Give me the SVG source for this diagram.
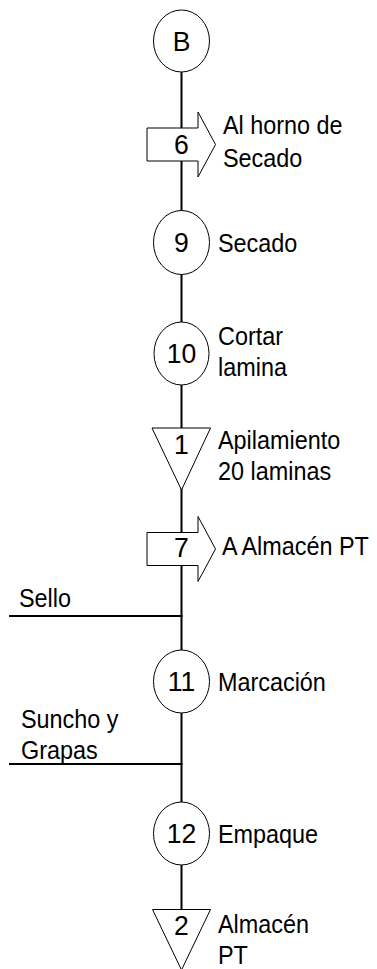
<svg xmlns="http://www.w3.org/2000/svg" width="377" height="969" viewBox="0 0 377 969">
<style>
.shape{fill:#fff;stroke:#000;stroke-width:1}
.conn{stroke:#000;stroke-width:2;fill:none}
text{font-family:"Liberation Sans",Arial,sans-serif;font-size:26px;fill:#000}
.num{text-anchor:middle;font-size:28px}
</style>
<defs>
<polygon id="transport" class="shape" points="-34.5,-16.5 16.5,-16.5 16.5,-32.5 34,0 16.5,32.5 16.5,16.5 -34.5,16.5"/>
</defs>
<rect width="377" height="969" fill="#fff"/>
<g id="connectors">
<line class="conn" x1="181.5" y1="70" x2="181.5" y2="910"/>
<line class="conn" x1="9" y1="616" x2="182.5" y2="616"/>
<line class="conn" x1="9" y1="764" x2="182.5" y2="764"/>
</g>
<g id="nodeB">
<ellipse class="shape" cx="181.5" cy="41" rx="28" ry="31"/>
<text class="num" transform="translate(181.5 51) scale(0.95 1)">B</text>
</g>
<g id="node6">
<use href="#transport" x="181.5" y="144.5"/>
<text class="num" transform="translate(181.5 154) scale(0.95 1)">6</text>
<text transform="translate(223 134) scale(0.9 1)">Al horno de</text>
<text transform="translate(223 167) scale(0.9 1)">Secado</text>
</g>
<g id="node9">
<ellipse class="shape" cx="181.5" cy="242.5" rx="28" ry="32"/>
<text class="num" transform="translate(181.5 252) scale(0.95 1)">9</text>
<text transform="translate(218 251.5) scale(0.9 1)">Secado</text>
</g>
<g id="node10">
<ellipse class="shape" cx="181.5" cy="353.5" rx="27.5" ry="31.5"/>
<text class="num" transform="translate(181.5 363) scale(0.95 1)">10</text>
<text transform="translate(218 345) scale(0.9 1)">Cortar</text>
<text transform="translate(218 376) scale(0.9 1)">lamina</text>
</g>
<g id="node1">
<polygon class="shape" points="152,428 210.5,428 181.5,490"/>
<text class="num" transform="translate(181.5 454) scale(0.95 1)">1</text>
<text transform="translate(218 449) scale(0.9 1)">Apilamiento</text>
<text transform="translate(218 480) scale(0.9 1)">20 laminas</text>
</g>
<g id="node7">
<use href="#transport" x="181.5" y="549"/>
<text class="num" transform="translate(181.5 557) scale(0.95 1)">7</text>
<text transform="translate(222 555) scale(0.9 1)">A Almacén PT</text>
</g>
<g id="sello">
<text transform="translate(19 607) scale(0.9 1)">Sello</text>
</g>
<g id="node11">
<ellipse class="shape" cx="181.5" cy="681.5" rx="28" ry="31.5"/>
<text class="num" transform="translate(181.5 691) scale(0.95 1)">11</text>
<text transform="translate(218 690.5) scale(0.9 1)">Marcación</text>
</g>
<g id="suncho">
<text transform="translate(21 728) scale(0.9 1)">Suncho y</text>
<text transform="translate(21 759) scale(0.9 1)">Grapas</text>
</g>
<g id="node12">
<ellipse class="shape" cx="181.5" cy="833.5" rx="28" ry="31.5"/>
<text class="num" transform="translate(181.5 843) scale(0.95 1)">12</text>
<text transform="translate(218 842.5) scale(0.9 1)">Empaque</text>
</g>
<g id="node2">
<polygon class="shape" points="152.5,909.5 210.5,909.5 181.5,970"/>
<text class="num" transform="translate(181.5 935) scale(0.95 1)">2</text>
<text transform="translate(218 933) scale(0.9 1)">Almacén</text>
<text transform="translate(218 964) scale(0.9 1)">PT</text>
</g>
</svg>
